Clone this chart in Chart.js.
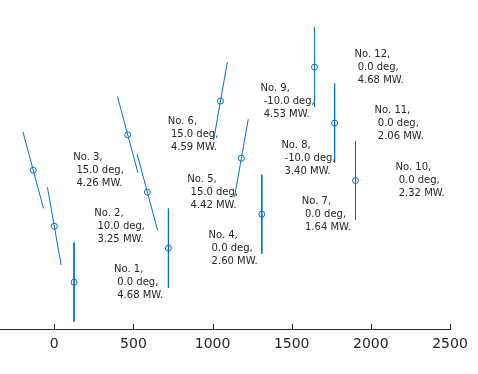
<!DOCTYPE html>
<html>
<head>
<meta charset="utf-8">
<script src="https://cdn.jsdelivr.net/npm/chart.js@4.4.1/dist/chart.umd.min.js"></script>
<style>
  html, body { margin: 0; padding: 0; background: #fff; }
  #wrap { width: 478px; height: 374px; }
</style>
</head>
<body>
<div id="wrap"><canvas id="turbines"></canvas></div>
<script>
// turbine data
var turbineNo = [1, 2, 3, 4, 5, 6, 7, 8, 9, 10, 11, 12];
var posX = [125, 0, -133, 721, 588, 464, 1311, 1182, 1050, 1903, 1771, 1644];
var posY = [296, 650, 1004, 511, 865, 1228, 726, 1080, 1441, 939, 1302, 1656];
var yawDeg = [0, 10, 15, 0, 15, 15, 0, -10, -10, 0, 0, 0];
var powerMW = [4.68, 3.25, 4.26, 2.60, 4.42, 4.59, 1.64, 3.40, 4.53, 2.32, 2.06, 4.68];
var rotorD = 500;
var xTicks = [0, 500, 1000, 1500, 2000, 2500];

var blue = '#0072BD';
var axisColor = '#262626';

function rotorDataset(i) {
    var r = rotorD / 2;
    var a = yawDeg[i] * Math.PI / 180;
    return {
        data: [
            { x: posX[i] - r * Math.sin(a), y: posY[i] + r * Math.cos(a) },
            { x: posX[i] + r * Math.sin(a), y: posY[i] - r * Math.cos(a) }
        ],
        showLine: true,
        borderColor: blue,
        borderWidth: 1,
        pointRadius: 0
    };
}

// labels next to each hub
var labelPlugin = {
    id: 'turbineLabels',
    afterDatasetsDraw: function(chart) {
        var ctx = chart.ctx;
        var xs = chart.scales.x, ys = chart.scales.y;
        ctx.save();
        ctx.font = '10px "DejaVu Sans"';
        ctx.fillStyle = axisColor;
        ctx.textAlign = 'left';
        ctx.textBaseline = 'middle';
        for (var i = 0; i < turbineNo.length; i++) {
            var px = xs.getPixelForValue(posX[i]) + 40;
            var py = ys.getPixelForValue(posY[i]);
            ctx.fillText('No. ' + turbineNo[i] + ',', px, py - 13);
            ctx.fillText(' ' + yawDeg[i].toFixed(1) + ' deg,', px, py);
            ctx.fillText(' ' + powerMW[i].toFixed(2) + ' MW.', px, py + 13);
        }
        ctx.restore();
    }
};

// inward tick marks like the original axis
var tickPlugin = {
    id: 'inwardTicks',
    afterDraw: function(chart) {
        var ctx = chart.ctx;
        var xs = chart.scales.x;
        var bottom = chart.chartArea.bottom;
        ctx.save();
        ctx.strokeStyle = axisColor;
        ctx.lineWidth = 1;
        ctx.beginPath();
        xTicks.forEach(function(v) {
            var px = Math.round(xs.getPixelForValue(v)) + 0.5;
            ctx.moveTo(px, bottom);
            ctx.lineTo(px, bottom - 5);
        });
        ctx.stroke();
        ctx.restore();
    }
};

var datasets = [];
for (var i = 0; i < turbineNo.length; i++) {
    datasets.push(rotorDataset(i));
}
datasets.push({
    data: posX.map(function(x, i) { return { x: x, y: posY[i] }; }),
    showLine: false,
    pointStyle: 'circle',
    pointRadius: 3,
    pointBorderWidth: 1,
    pointBorderColor: blue,
    pointBackgroundColor: 'rgba(0,0,0,0)'
});

new Chart(document.getElementById('turbines'), {
    type: 'scatter',
    data: { datasets: datasets },
    options: {
        responsive: true,
        maintainAspectRatio: false,
        animation: false,
        layout: { autoPadding: false, padding: { left: 0, right: 28, top: 0, bottom: 0 } },
        plugins: {
            legend: { display: false },
            tooltip: { enabled: false }
        },
        scales: {
            x: {
                type: 'linear',
                min: -343,
                max: 2500,
                afterBuildTicks: function(scale) {
                    scale.ticks = xTicks.map(function(v) { return { value: v }; });
                },
                afterFit: function(scale) { scale.height = 45; },
                grid: { display: false, drawTicks: false },
                border: { display: true, color: axisColor, width: 1 },
                ticks: {
                    color: axisColor,
                    padding: 7,
                    maxRotation: 0,
                    font: { family: '"DejaVu Sans"', size: 14 },
                    callback: function(v) { return String(v); }
                }
            },
            y: {
                type: 'linear',
                display: false,
                min: 0,
                max: 2080
            }
        }
    },
    plugins: [labelPlugin, tickPlugin]
});
</script>
</body>
</html>
